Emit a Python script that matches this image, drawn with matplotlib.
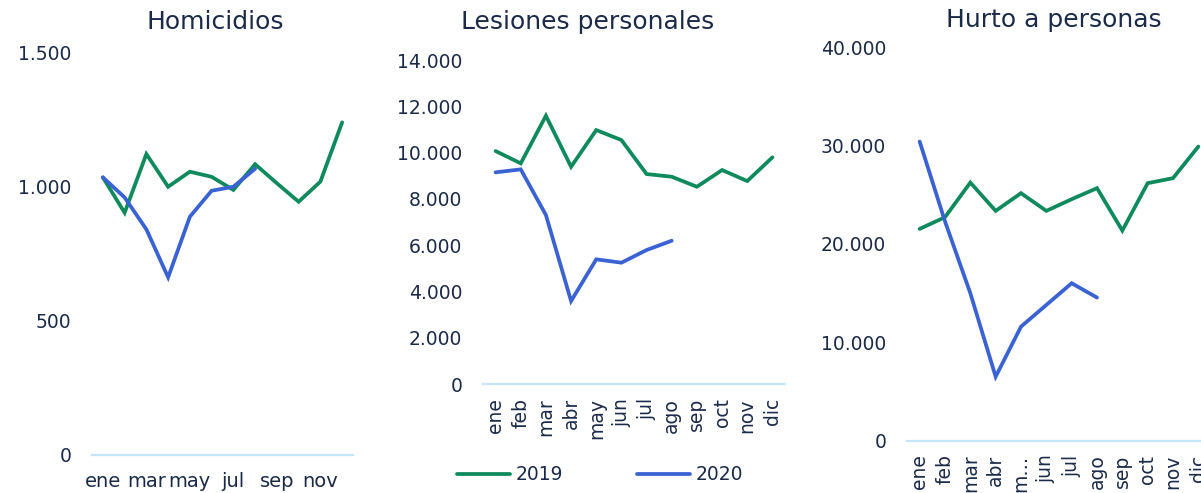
import matplotlib
matplotlib.use("Agg")
import matplotlib.pyplot as plt
from matplotlib.ticker import FuncFormatter

months = ["ene", "feb", "mar", "abr", "may", "jun", "jul", "ago", "sep", "oct", "nov", "dic"]
months_hurto = ["ene", "feb", "mar", "abr", "m…", "jun", "jul", "ago", "sep", "oct", "nov", "dic"]

hom_2019 = [1036, 904, 1123, 1001, 1057, 1038, 989, 1085, 1014, 945, 1020, 1241]
hom_2020 = [1036, 961, 842, 663, 889, 986, 1001, 1068]

les_2019 = [10069, 9538, 11593, 9391, 10975, 10544, 9077, 8960, 8528, 9249, 8774, 9797]
les_2020 = [9150, 9279, 7307, 3595, 5395, 5250, 5796, 6198]

hur_2019 = [21536, 22726, 26246, 23367, 25168, 23367, 24557, 25676, 21363, 26185, 26694, 29908]
hur_2020 = [30417, 22300, 14995, 6511, 11597, 13804, 16012, 14553]

titles = ["Homicidios", "Lesiones personales", "Hurto a personas"]
series_labels = ["2019", "2020"]

GREEN = "#0f8a5c"
BLUE = "#3a62d3"
TEXT = "#1a2a48"
AXLINE = "#c6e3f8"

plt.rcParams["font.family"] = ["DejaVu Sans"]

W, H = 1201, 493
fig = plt.figure(figsize=(W / 100, H / 100), dpi=100)

def px_axes(left, right, bottom, top):
    return fig.add_axes([left / W, 1 - bottom / H, (right - left) / W, (bottom - top) / H])

fmt = FuncFormatter(lambda v, p: f"{int(v):,}".replace(",", "."))

ax1 = px_axes(92, 353, 455, 53)
ax2 = px_axes(483, 785, 384.3, 60)
ax3 = px_axes(907, 1211, 440.7, 47.3)

specs = [
    (ax1, hom_2019, hom_2020, 1500, [0, 500, 1000, 1500], months, 0),
    (ax2, les_2019, les_2020, 14000, list(range(0, 14001, 2000)), months, 90),
    (ax3, hur_2019, hur_2020, 40000, list(range(0, 40001, 10000)), months_hurto, 90),
]

handles = []
for ax, s19, s20, ymax, yt, labels, rot in specs:
    l1, = ax.plot(range(len(s19)), s19, color=GREEN, lw=2.7, solid_capstyle="round", solid_joinstyle="miter")
    l2, = ax.plot(range(len(s20)), s20, color=BLUE, lw=2.7, solid_capstyle="round", solid_joinstyle="miter")
    handles = [l1, l2]
    ax.set_ylim(0, ymax)
    ax.set_xlim(-0.5, 11.5)
    ax.set_yticks(yt)
    ax.yaxis.set_major_formatter(fmt)
    for s in ["top", "right", "left"]:
        ax.spines[s].set_visible(False)
    ax.spines["bottom"].set_color(AXLINE)
    ax.spines["bottom"].set_linewidth(1.6)
    ax.tick_params(axis="y", length=0, pad=15, labelsize=13.5, labelcolor=TEXT)
    ax.set_facecolor("none")
    if rot == 0:
        ax.set_xticks(range(0, 12, 2))
        ax.set_xticklabels(labels[::2])
        ax.tick_params(axis="x", length=0, pad=12, labelsize=14, labelcolor=TEXT)
    else:
        ax.set_xticks(range(12))
        ax.set_xticklabels(labels, rotation=90)
        ax.tick_params(axis="x", length=0, pad=10, labelsize=13.5, labelcolor=TEXT)

fig.text(215 / W, 1 - 22 / H, titles[0], ha="center", va="center", fontsize=18, color=TEXT)
fig.text(588 / W, 1 - 22 / H, titles[1], ha="center", va="center", fontsize=18, color=TEXT)
fig.text(1054 / W, 1 - 20 / H, titles[2], ha="center", va="center", fontsize=18, color=TEXT)

leg = fig.legend(handles, series_labels, loc="center", bbox_to_anchor=(600 / W, 1 - 475 / H),
                 ncol=2, frameon=False, fontsize=13.5, handlelength=2.85, handletextpad=0.3,
                 columnspacing=3.9, labelcolor=TEXT)

fig.savefig("out.png", dpi=100)
